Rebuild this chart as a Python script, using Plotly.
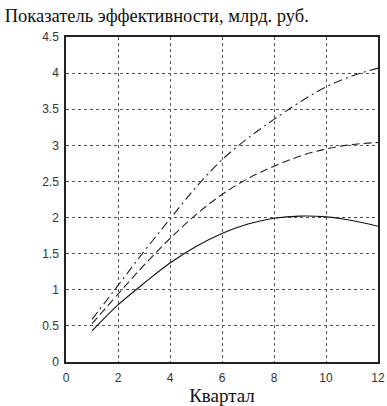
import plotly.graph_objects as go

quarters = [1, 2, 3, 4, 5, 6, 7, 8, 9, 10, 11, 12]
solid_vals = [0.43, 0.79, 1.09, 1.37, 1.60, 1.78, 1.91, 1.99, 2.02, 2.01, 1.96, 1.88]
dashed_vals = [0.53, 0.94, 1.34, 1.71, 2.04, 2.32, 2.54, 2.71, 2.85, 2.95, 3.01, 3.04]
dashdot_vals = [0.59, 1.06, 1.53, 1.98, 2.42, 2.80, 3.10, 3.36, 3.60, 3.81, 3.96, 4.07]

x_ticks = [0, 2, 4, 6, 8, 10, 12]
y_ticks = [0, 0.5, 1, 1.5, 2, 2.5, 3, 3.5, 4, 4.5]

fig = go.Figure()
fig.add_trace(go.Scatter(x=quarters, y=solid_vals, mode="lines", line=dict(color="#111", width=1.1, shape="spline")))
fig.add_trace(go.Scatter(x=quarters, y=dashed_vals, mode="lines", line=dict(color="#222", width=1.1, dash="8px,4px", shape="spline")))
fig.add_trace(go.Scatter(x=quarters, y=dashdot_vals, mode="lines", line=dict(color="#222", width=1.1, dash="9px,4px,2px,4px", shape="spline")))

tickfont = dict(family="Liberation Sans Narrow, Liberation Sans, Arial", size=12, color="#333")
fig.update_layout(
    width=387, height=406,
    margin=dict(l=66, r=2, t=37, b=42),
    paper_bgcolor="white", plot_bgcolor="white",
    showlegend=False,
    title=dict(text="Показатель эффективности, млрд. руб.", x=0.012, xanchor="left", xref="container",
               y=0.978, yanchor="top", yref="container",
               font=dict(family="Liberation Serif, Times New Roman, serif", size=18.5, color="#111")),
)
fig.update_xaxes(range=[0, 12], tickvals=x_ticks, ticktext=[str(v) for v in x_ticks],
                 showline=True, linecolor="#222", linewidth=1.5, mirror=True,
                 showgrid=True, gridcolor="#555", gridwidth=0.8, griddash="dot",
                 ticks="", ticklabelstandoff=4, tickfont=tickfont, zeroline=False,
                 ticklabeloverflow="allow",
                 title=dict(text="Квартал", standoff=6,
                            font=dict(family="Liberation Serif, Times New Roman, serif", size=19, color="#111")))
fig.update_yaxes(range=[0, 4.5], tickvals=y_ticks, ticktext=["0", "0.5", "1", "1.5", "2", "2.5", "3", "3.5", "4", "4.5"],
                 showline=True, linecolor="#222", linewidth=1.5, mirror=True,
                 showgrid=True, gridcolor="#555", gridwidth=0.8, griddash="dot",
                 ticks="", ticklabelstandoff=3, tickfont=tickfont, zeroline=False)

fig.write_html("out.html")
